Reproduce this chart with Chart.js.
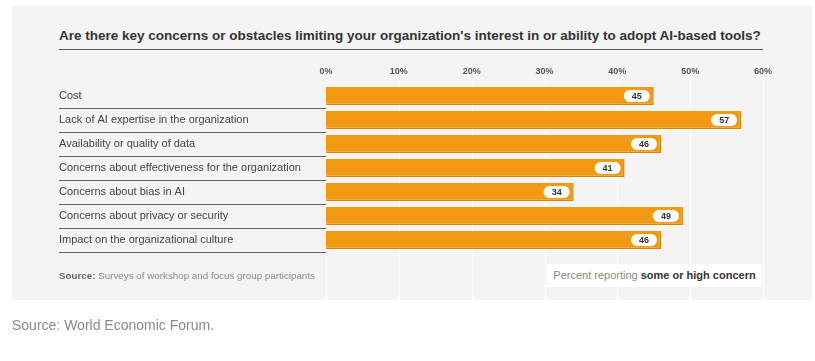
<!DOCTYPE html>
<html>
<head>
<meta charset="utf-8">
<script src="https://cdn.jsdelivr.net/npm/chart.js@4"></script>
<style>
  html, body { margin:0; padding:0; background:#fff; }
  body { width:815px; height:361px; position:relative; overflow:hidden; font-family:"Liberation Sans", Arial, sans-serif; }
  #panel { position:absolute; left:12px; top:6px; width:800px; height:294px; background:#f4f4f4; }
  #title { position:absolute; left:59px; top:28px; font-size:13.5px; font-weight:bold; color:#333; white-space:nowrap; }
  #title-rule { position:absolute; left:59px; top:49px; width:704px; height:0; border-top:1.5px solid #555; }
  #src { position:absolute; left:59px; top:270px; font-size:9.8px; color:#8a8a8a; white-space:nowrap; }
  #src b { color:#666; }
  #note { position:absolute; left:547px; top:264px; width:215px; height:23px; background:#fff; font-size:11px; color:#888; line-height:23px; text-align:center; white-space:nowrap; }
  #note b { color:#333; }
  #wef { position:absolute; left:12px; top:317px; font-size:14px; color:#8a8a8a; white-space:nowrap; }
  #wrap { position:absolute; left:0; top:0; width:815px; height:361px; }
</style>
</head>
<body>
<div id="panel"></div>
<div id="title">Are there key concerns or obstacles limiting your organization's interest in or ability to adopt AI-based tools?</div>
<div id="title-rule"></div>
<div id="wrap"><canvas id="chart" width="815" height="361"></canvas></div>
<div id="src"><b>Source:</b> Surveys of workshop and focus group participants</div>
<div id="note">Percent reporting <b>some or high concern</b></div>
<div id="wef">Source: World Economic Forum.</div>

<script>
// ── 데이터 ───────────────────────────────────────────
const categories = [
  "Cost",
  "Lack of AI expertise in the organization",
  "Availability or quality of data",
  "Concerns about effectiveness for the organization",
  "Concerns about bias in AI",
  "Concerns about privacy or security",
  "Impact on the organizational culture"
];
const concernPct = [45, 57, 46, 41, 34, 49, 46];
const xTicks = [0, 10, 20, 30, 40, 50, 60];

// ── 배경 격자 / 구분선 / 값 라벨 ─────────────────────
const decorPlugin = {
  id: "decor",
  beforeDatasetsDraw(c) {
    const { ctx, scales } = c;
    const x = scales.x, y = scales.y;
    ctx.save();
    // 세로 격자 (패널 아래까지)
    ctx.strokeStyle = "rgba(255,255,255,0.8)";
    ctx.lineWidth = 1.5;
    xTicks.forEach(v => {
      const px = Math.round(x.getPixelForValue(v)) + 0.5;
      ctx.beginPath(); ctx.moveTo(px, 80); ctx.lineTo(px, 300); ctx.stroke();
    });
    // 라벨 밑줄
    ctx.strokeStyle = "#666";
    ctx.lineWidth = 1.2;
    categories.forEach((_, i) => {
      const py = Math.round(y.getPixelForValue(i) + 12) + 0.5;
      ctx.beginPath(); ctx.moveTo(59, py); ctx.lineTo(x.getPixelForValue(0), py); ctx.stroke();
    });
    ctx.restore();
  },
  afterDatasetsDraw(c) {
    const { ctx, scales } = c;
    const x = scales.x, y = scales.y;
    ctx.save();
    ctx.font = "bold 9px 'Liberation Sans', Arial, sans-serif";
    ctx.textAlign = "center";
    ctx.textBaseline = "middle";
    concernPct.forEach((v, i) => {
      const end = x.getPixelForValue(v);
      const cy = y.getPixelForValue(i);
      const w = 26, h = 12, cx = end - 4 - w / 2;
      ctx.fillStyle = "#fff";
      ctx.beginPath();
      ctx.roundRect(cx - w / 2, cy - h / 2, w, h, 6);
      ctx.fill();
      ctx.fillStyle = "#333";
      ctx.fillText(String(v), cx, cy + 0.5);
    });
    ctx.restore();
  }
};

new Chart(document.getElementById("chart"), {
  type: "bar",
  data: {
    labels: categories,
    datasets: [{
      data: concernPct,
      backgroundColor: "#f39a12",
      borderColor: "#d4870c",
      borderWidth: { top: 0, left: 0, right: 1.5, bottom: 1.5 },
      borderSkipped: false,
      categoryPercentage: 1,
      barPercentage: 0.74
    }]
  },
  options: {
    indexAxis: "y",
    responsive: false,
    animation: false,
    events: [],
    layout: { padding: { left: 59, right: 52, top: 60, bottom: 109 } },
    scales: {
      x: {
        position: "top",
        min: 0, max: 60,
        afterBuildTicks: (axis) => { axis.ticks = xTicks.map(v => ({ value: v })); },
        afterFit: (axis) => { axis.height = 24; },
        ticks: {
          callback: (v) => v + "%",
          color: "#555",
          font: { family: "'Liberation Sans', Arial, sans-serif", size: 9, weight: "bold" },
          padding: 7,
          maxRotation: 0
        },
        grid: { display: false, drawTicks: false },
        border: { display: false }
      },
      y: {
        afterFit: (axis) => { axis.width = 267; },
        ticks: {
          crossAlign: "far",
          color: "#444",
          font: { family: "'Liberation Sans', Arial, sans-serif", size: 11 }
        },
        grid: { display: false, drawTicks: false },
        border: { display: false }
      }
    },
    plugins: { legend: { display: false }, tooltip: { enabled: false } }
  },
  plugins: [decorPlugin]
});
</script>
</body>
</html>
